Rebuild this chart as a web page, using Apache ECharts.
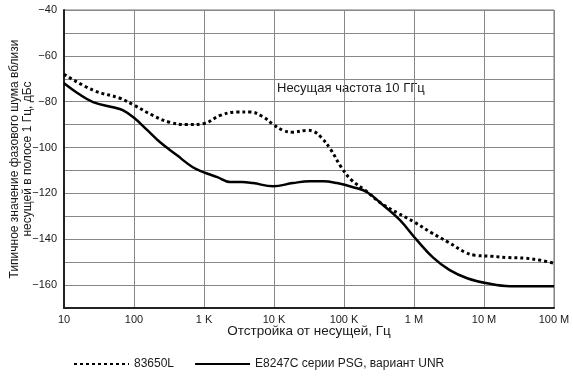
<!DOCTYPE html>
<html>
<head>
<meta charset="utf-8">
<script src="https://cdn.jsdelivr.net/npm/echarts@6/dist/echarts.min.js"></script>
<style>
  html, body { margin: 0; padding: 0; background: #fff; }
  #chart { width: 573px; height: 378px; }
</style>
</head>
<body>
<div id="chart"></div>
<script>
// 83650L (пунктир)
const freq83650 = [10, 26, 63, 100, 186, 324, 575, 1000, 1700, 2950, 4570, 6900, 9800, 13500, 18600, 29500, 37000, 47000, 65000, 91000, 126000, 200000, 339000, 589000, 1020000, 1740000, 3090000, 5370000, 7410000, 12600000, 21900000, 38900000, 64600000, 100000000];
const noise83650 = [-68, -75, -78.5, -81.5, -86, -89, -90, -89.5, -86, -84.5, -84.5, -86.5, -90, -92.5, -93.3, -92.5, -93, -95.5, -101, -108.5, -114, -118.6, -124.3, -128.6, -132.6, -137, -141.3, -145.7, -147, -147.4, -148, -148.3, -149.2, -150.5];

// E8247C PSG, UNR (сплошная)
const freqPsg = [10, 15.5, 26, 50, 69, 100, 155, 234, 407, 692, 977, 1550, 2340, 3470, 5010, 9770, 18600, 32400, 50100, 79400, 135000, 214000, 363000, 631000, 1100000, 1860000, 3240000, 5750000, 11000000, 23400000, 40700000, 69200000, 100000000];
const noisePsg = [-72, -76.2, -80.2, -82.4, -83.7, -87, -92.4, -97.6, -103.3, -108.6, -110.7, -112.9, -115, -115, -115.5, -116.9, -115.5, -114.7, -114.7, -115.5, -117.3, -119.5, -125.2, -131.7, -140.4, -147.9, -153.5, -157, -159.2, -160.5, -160.5, -160.5, -160.5];

const xTickLabels = { 10: '10', 100: '100', 1000: '1 K', 10000: '10 K', 100000: '100 K', 1000000: '1 M', 10000000: '10 M', 100000000: '100 M' };
const seriesNames = ['83650L', 'E8247C серии PSG, вариант UNR'];
const yTitle = 'Типичное значение фазового шума вблизи\nнесущей в полосе 1 Гц, дБс';

const font = '"Liberation Sans Narrow", "Arial Narrow", "Liberation Sans", sans-serif';
const txt = '#1a1a1a';

const zip = (xs, ys) => xs.map((x, i) => [x, ys[i]]);

const chart = echarts.init(document.getElementById('chart'), null, { renderer: 'canvas' });

chart.setOption({
  backgroundColor: '#fff',
  animation: false,
  textStyle: { fontFamily: font, color: txt },
  grid: {
    left: 64, right: 19, top: 10, bottom: 70,
    containLabel: false, outerBoundsMode: 'none',
    show: true, borderColor: '#777', borderWidth: 1
  },
  xAxis: {
    type: 'log',
    logBase: 10,
    min: 10,
    max: 100000000,
    name: 'Отстройка от несущей, Гц',
    nameLocation: 'middle',
    nameGap: 16,
    nameMoveOverlap: false,
    nameTextStyle: { fontSize: 13.5, color: txt, fontFamily: font },
    axisLine: { show: true, lineStyle: { color: '#222', width: 2 } },
    axisTick: { show: false },
    minorTick: { show: false },
    splitLine: { show: true, lineStyle: { color: '#888', width: 1 } },
    axisLabel: {
      fontSize: 11, color: txt, fontFamily: font, margin: 6,
      formatter: v => xTickLabels[Math.round(v)] || ''
    }
  },
  yAxis: {
    type: 'value',
    min: -170,
    max: -40,
    interval: 10,
    axisLine: { show: true, lineStyle: { color: '#222', width: 2 } },
    axisTick: { show: false },
    splitLine: { show: true, lineStyle: { color: '#888', width: 1 } },
    axisLabel: {
      fontSize: 11, color: txt, fontFamily: font, margin: 7,
      formatter: v => (v % 20 === 0 ? String(v).replace('-', '\u2212') : '')
    }
  },
  legend: {
    bottom: 3,
    left: 68,
    itemWidth: 55,
    itemHeight: 4,
    itemGap: 20,
    itemStyle: { opacity: 0 },
    textStyle: { fontSize: 12, color: txt, fontFamily: font },
    data: seriesNames
  },
  graphic: [
    {
      type: 'text',
      x: 21,
      y: 159,
      rotation: Math.PI / 2,
      style: {
        text: yTitle, fontSize: 12, lineHeight: 13, fill: txt, fontFamily: font,
        align: 'center', verticalAlign: 'middle'
      }
    },
    {
      type: 'text',
      left: 277,
      top: 82,
      style: { text: 'Несущая частота 10 ГГц', fontSize: 13, fill: txt, fontFamily: font }
    }
  ],
  series: [
    {
      name: seriesNames[0],
      type: 'line',
      smooth: 0.4,
      symbol: 'none',
      data: zip(freq83650, noise83650),
      lineStyle: { color: '#000', width: 3, type: [3, 3], cap: 'butt' },
      itemStyle: { color: '#000' }
    },
    {
      name: seriesNames[1],
      type: 'line',
      smooth: 0.4,
      symbol: 'none',
      data: zip(freqPsg, noisePsg),
      lineStyle: { color: '#000', width: 2.5 },
      itemStyle: { color: '#000' }
    }
  ]
});
</script>
</body>
</html>
